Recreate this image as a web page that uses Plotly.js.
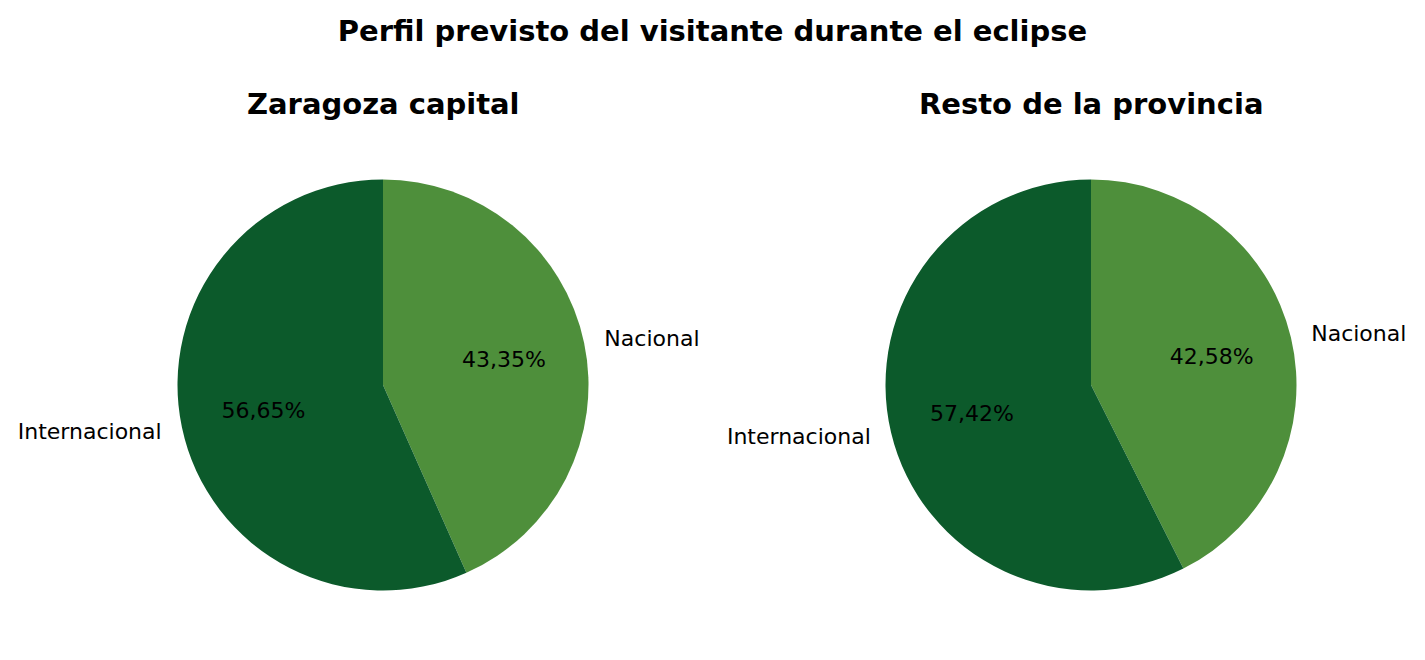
<!DOCTYPE html>
<html>
<head>
<meta charset="utf-8">
<script src="https://cdn.plot.ly/plotly-3.0.1.min.js"></script>
<style>
  body { margin: 0; background: #fff; }
  #chart { width: 1425px; height: 660px; }
</style>
</head>
<body>
<div id="chart"></div>
<script>
const categorias = ['Nacional', 'Internacional'];
const zaragoza = [43.35, 56.65];
const resto = [42.58, 57.42];
const titulos = ['Zaragoza capital', 'Resto de la provincia'];
const colores = ['#4e8f3b', '#0c5a2b'];

const fuente = 'DejaVu Sans, sans-serif';
const W = 1425, H = 660;

// centro y radio de cada tarta, en píxeles
const centros = [[383, 385], [1091, 385]];
const radio = 205.5;

// dominio cuadrado alrededor de un centro
const dominio = (c, r) => ({
    x: [(c[0] - r) / W, (c[0] + r) / W],
    y: [(H - c[1] - r) / H, (H - c[1] + r) / H]
});

const transparente = ['rgba(0,0,0,0)', 'rgba(0,0,0,0)'];
const base = {
    type: 'pie',
    labels: categorias,
    sort: false,
    direction: 'clockwise',
    rotation: 0,
    showlegend: false
};

const tartas = [zaragoza, resto];
const data = [];
tartas.forEach((valores, i) => {
    // sectores
    data.push(Object.assign({}, base, {
        values: valores,
        domain: dominio(centros[i], radio),
        marker: {colors: colores},
        textinfo: 'none',
        hoverinfo: 'label+percent'
    }));
    // porcentajes (a ~0,6 del radio)
    data.push(Object.assign({}, base, {
        values: valores,
        domain: dominio(centros[i], radio * 1.19),
        marker: {colors: transparente},
        texttemplate: '%{percent:.2%}',
        textposition: 'inside',
        insidetextorientation: 'horizontal',
        textfont: {family: fuente, size: 22, color: '#000'},
        hoverinfo: 'skip'
    }));
    // etiquetas (a ~1,1 del radio)
    data.push(Object.assign({}, base, {
        values: valores,
        domain: dominio(centros[i], radio * 1.07),
        marker: {colors: transparente},
        textinfo: 'label',
        textposition: 'outside',
        outsidetextfont: {family: fuente, size: 22, color: '#000'},
        hoverinfo: 'skip'
    }));
});

const layout = {
    width: W,
    height: H,
    margin: {l: 0, r: 0, t: 0, b: 0},
    paper_bgcolor: '#fff',
    separators: ',.',
    showlegend: false,
    title: {
        text: '<b>Perfil previsto del visitante durante el eclipse</b>',
        font: {family: fuente, size: 29, color: '#000'},
        x: 0.5,
        xanchor: 'center',
        y: 0.953,
        yanchor: 'middle'
    },
    annotations: titulos.map((t, i) => ({
        text: '<b>' + t + '</b>',
        xref: 'paper',
        yref: 'paper',
        x: centros[i][0] / W,
        y: 0.843,
        xanchor: 'center',
        yanchor: 'middle',
        showarrow: false,
        font: {family: fuente, size: 29, color: '#000'}
    }))
};

Plotly.newPlot('chart', data, layout, {displayModeBar: false});
</script>
</body>
</html>
